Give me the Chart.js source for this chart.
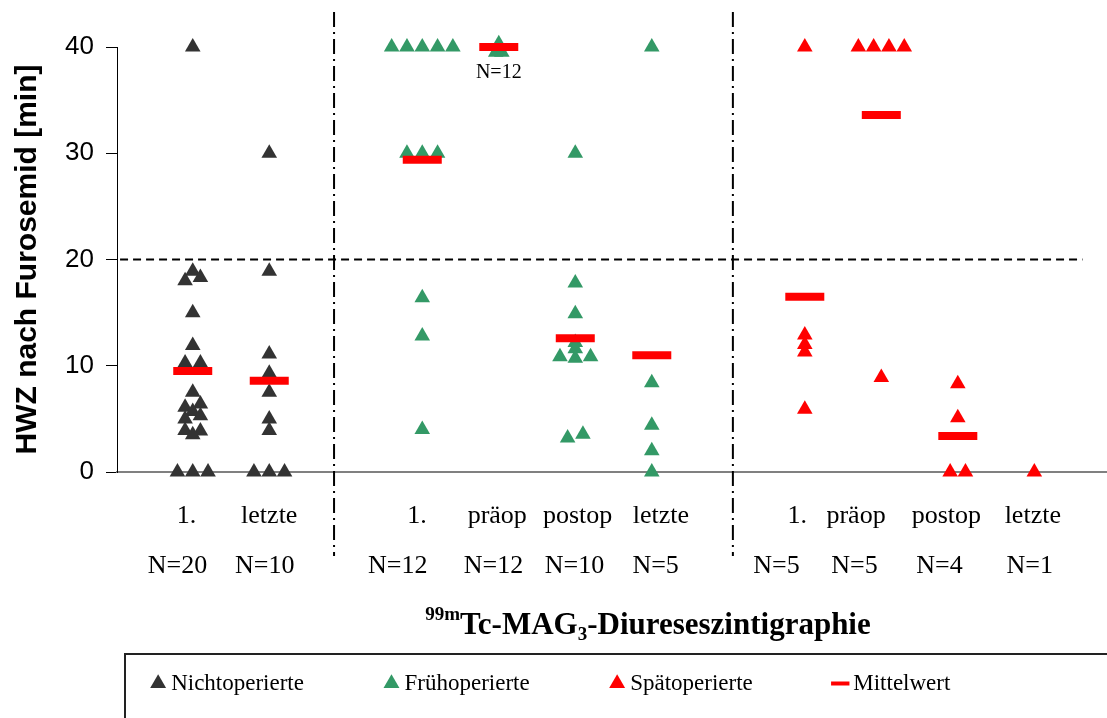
<!DOCTYPE html>
<html lang="de">
<head>
<meta charset="utf-8">
<title>HWZ nach Furosemid</title>
<script src="https://cdn.jsdelivr.net/npm/chart.js@4.4.1/dist/chart.umd.min.js"></script>
<style>
  html, body { margin: 0; padding: 0; background: #fff; }
  #wrap { width: 1107px; height: 718px; position: relative; }
</style>
</head>
<body>
<div id="wrap"><canvas id="hwzChart"></canvas></div>
<script>
// Spalten der drei Gruppen auf der x-Achse (Lücken = Trennlinien)
const spalten = [0, 1, 3, 4, 5, 6, 8, 9, 10, 11];
const kategorien = ['1.', 'letzte', '1.', 'präop', 'postop', 'letzte', '1.', 'präop', 'postop', 'letzte'];
const anzahl = ['N=20', 'N=10', 'N=12', 'N=12', 'N=10', 'N=5', 'N=5', 'N=5', 'N=4', 'N=1'];
// wo die Beschriftungen unter der Achse stehen
const kategorieX = [-0.08, 1.0, 2.93, 3.98, 5.03, 6.12, 7.9, 8.67, 9.85, 10.98];
const anzahlX = [-0.2, 0.94, 2.68, 3.93, 4.99, 6.05, 7.63, 8.65, 9.76, 10.94];
const yTicks = [0, 10, 20, 30, 40];

// HWZ-Werte [min] je Spalte, dazu seitlicher Versatz bei Überlappung
const nichtErste = [40, 18.9, 18.3, 18.0, 15.0, 11.9, 10.25, 10.25, 7.5, 6.4, 6.1, 5.7, 5.3, 5.0, 3.9, 3.85, 3.5, 0, 0, 0];
const nichtErsteV = [0, 0, 0.1, -0.1, 0, 0, -0.1, 0.1, 0, 0.1, -0.1, 0, 0.1, -0.1, -0.1, 0.1, 0, -0.2, 0, 0.2];
const nichtLetzte = [30, 18.9, 11.1, 9.3, 7.5, 5.0, 3.9, 0, 0, 0];
const nichtLetzteV = [0, 0, 0, 0, 0, 0, 0, -0.2, 0, 0.2];

const fruehErste = [40, 40, 40, 40, 40, 30, 30, 30, 16.4, 12.8, 4.0];
const fruehErsteV = [-0.4, -0.2, 0, 0.2, 0.4, -0.2, 0, 0.2, 0, 0, 0];
const fruehPraeop = [40.3, 39.5, 39.5];
const fruehPraeopV = [0, -0.04, 0.04];
const fruehPostop = [30, 17.8, 14.9, 12.2, 11.6, 10.85, 10.7, 10.85, 3.2, 3.55];
const fruehPostopV = [0, 0, 0, 0, 0, -0.2, 0, 0.2, -0.1, 0.1];
const fruehLetzte = [40, 8.4, 4.4, 2.0, 0];

const spaetErste = [40, 12.9, 12.0, 11.3, 5.9];
const spaetPraeop = [40, 40, 40, 40, 8.9];
const spaetPraeopV = [-0.3, -0.1, 0.1, 0.3, 0];
const spaetPostop = [8.3, 5.1, 0, 0];
const spaetPostopV = [0, 0, -0.1, 0.1];
const spaetLetzte = [0];

// Mittelwerte der ersten neun Spalten (letzte Spalte ohne Balken)
const mittelwerte = [9.5, 8.6, 29.4, 40, 12.6, 11.0, 16.5, 33.6, 3.4];

const grenzwert = 20;

const schwarz = '#333333';
const gruen = '#339966';
const rot = '#ff0000';
const serif = '"Liberation Serif", "Times New Roman", serif';
const sans = '"Liberation Sans", Arial, sans-serif';

const punkte = (x, werte, versatz = []) =>
  werte.map((v, i) => ({ x: x + (versatz[i] || 0), y: v }));

const dreieck = (label, farbe, daten) => ({
  label, data: daten, order: 1, clip: false,
  pointStyle: 'triangle', pointRadius: 9, pointHoverRadius: 9,
  pointBackgroundColor: farbe, backgroundColor: farbe, borderColor: farbe, pointBorderWidth: 0
});

const linie = (daten, dash) => ({
  label: '', data: daten, order: 2, clip: false, showLine: true,
  borderColor: '#000', borderWidth: 2, borderDash: dash, pointRadius: 0, pointHoverRadius: 0
});

// feste Höhen der beiden Beschriftungszeilen unter der x-Achse
const zeile = hoehe => axis => {
  axis.height = hoehe;
  axis.paddingLeft = 0;
  axis.paddingRight = 0;
};

// Titel der x-Achse mit hoch-/tiefgestellten Teilen, N=12 im Diagramm, Legendenrahmen
const zusatz = {
  id: 'zusatz',
  afterDraw(chart) {
    const { ctx } = chart;
    const { x: xs, y: ys, xn } = chart.scales;
    const teile = [
      { t: '99m', s: 19, dy: -14 },
      { t: 'Tc-MAG', s: 31, dy: 0 },
      { t: '3', s: 19, dy: 6 },
      { t: '-Diureseszintigraphie', s: 31, dy: 0 }
    ];
    ctx.save();
    ctx.fillStyle = '#000';
    ctx.textBaseline = 'alphabetic';
    let breite = 0;
    teile.forEach(p => { ctx.font = `bold ${p.s}px ${serif}`; p.w = ctx.measureText(p.t).width; breite += p.w; });
    let x = xs.getPixelForValue(5.95) - breite / 2;
    const y = xn.bottom + 48;
    teile.forEach(p => {
      ctx.font = `bold ${p.s}px ${serif}`;
      ctx.fillText(p.t, x, y + p.dy);
      x += p.w;
    });

    ctx.font = `20px ${serif}`;
    ctx.textAlign = 'center';
    ctx.textBaseline = 'middle';
    ctx.fillText('N=12', xs.getPixelForValue(4), ys.getPixelForValue(40) + 26);

    const box = chart.legend.legendHitBoxes[0];
    ctx.strokeStyle = '#222';
    ctx.lineWidth = 2;
    ctx.strokeRect(125, box.top - 18, 1100, 120);
    ctx.restore();
  }
};

new Chart(document.getElementById('hwzChart'), {
  type: 'scatter',
  data: {
    datasets: [
      dreieck('Nichtoperierte', schwarz, [
        ...punkte(spalten[0], nichtErste, nichtErsteV),
        ...punkte(spalten[1], nichtLetzte, nichtLetzteV)
      ]),
      dreieck('Frühoperierte', gruen, [
        ...punkte(spalten[2], fruehErste, fruehErsteV),
        ...punkte(spalten[3], fruehPraeop, fruehPraeopV),
        ...punkte(spalten[4], fruehPostop, fruehPostopV),
        ...punkte(spalten[5], fruehLetzte)
      ]),
      dreieck('Spätoperierte', rot, [
        ...punkte(spalten[6], spaetErste),
        ...punkte(spalten[7], spaetPraeop, spaetPraeopV),
        ...punkte(spalten[8], spaetPostop, spaetPostopV),
        ...punkte(spalten[9], spaetLetzte)
      ]),
      {
        label: 'Mittelwert', order: 0, clip: false,
        data: mittelwerte.map((m, i) => ({ x: spalten[i], y: m })),
        pointStyle: 'line', pointRadius: 19.5, pointHoverRadius: 19.5,
        pointBorderWidth: 8, pointBorderColor: rot, pointBackgroundColor: rot,
        borderColor: rot, backgroundColor: rot
      },
      // Grenzwert 20 min
      linie([{ x: -0.95, y: grenzwert }, { x: 11.63, y: grenzwert }], [8, 5]),
      // Trennlinien zwischen den Gruppen
      linie([{ x: 1.847, y: 43.3 }, { x: 1.847, y: -7.9 }], [15, 5, 2, 5]),
      linie([{ x: 7.06, y: 43.3 }, { x: 7.06, y: -7.9 }], [15, 5, 2, 5])
    ]
  },
  options: {
    responsive: true,
    maintainAspectRatio: false,
    animation: false,
    events: [],
    layout: { autoPadding: false, padding: { top: 47, right: 0, left: 0, bottom: 13 } },
    scales: {
      x: {
        type: 'linear', min: -0.99, max: 11.95,
        afterBuildTicks: axis => { axis.ticks = kategorieX.map(v => ({ value: v })); },
        afterFit: zeile(59),
        ticks: {
          autoSkip: false, maxRotation: 0, minRotation: 0, padding: 29,
          color: '#000', font: { family: serif, size: 26 },
          callback: (v, i) => kategorien[i]
        },
        grid: { display: false, drawTicks: false },
        border: { display: true, color: '#808080', width: 2 }
      },
      xn: {
        type: 'linear', position: 'bottom', weight: 1, min: -0.99, max: 11.95,
        afterBuildTicks: axis => { axis.ticks = anzahlX.map(v => ({ value: v })); },
        afterFit: zeile(55),
        ticks: {
          autoSkip: false, maxRotation: 0, minRotation: 0, padding: 19.5,
          color: '#000', font: { family: serif, size: 26 },
          callback: (v, i) => anzahl[i]
        },
        grid: { display: false, drawTicks: false },
        border: { display: false }
      },
      y: {
        min: 0, max: 40,
        afterBuildTicks: axis => { axis.ticks = yTicks.map(v => ({ value: v })); },
        afterFit: axis => { axis.width = 117; },
        ticks: { color: '#000', padding: 12, font: { family: sans, size: 26 } },
        grid: { drawOnChartArea: false, drawTicks: true, tickLength: 11, color: '#000', lineWidth: 1 },
        border: { display: true, color: '#000', width: 1 },
        title: {
          display: true, text: 'HWZ nach Furosemid [min]', color: '#000',
          font: { family: sans, size: 30, weight: 'bold' }, padding: { top: 10, bottom: 0 }
        }
      }
    },
    plugins: {
      tooltip: { enabled: false },
      legend: {
        position: 'bottom',
        labels: {
          usePointStyle: true, boxWidth: 3, boxHeight: 13, padding: 86,
          color: '#000', font: { family: serif, size: 23 },
          sort: (a, b) => a.datasetIndex - b.datasetIndex,
          generateLabels: chart => Chart.defaults.plugins.legend.labels.generateLabels(chart)
            .filter(it => it.text)
            .map(it => it.pointStyle === 'line' ? { ...it, lineWidth: 4, strokeStyle: rot } : it)
        }
      }
    }
  },
  plugins: [zusatz]
});
</script>
</body>
</html>
